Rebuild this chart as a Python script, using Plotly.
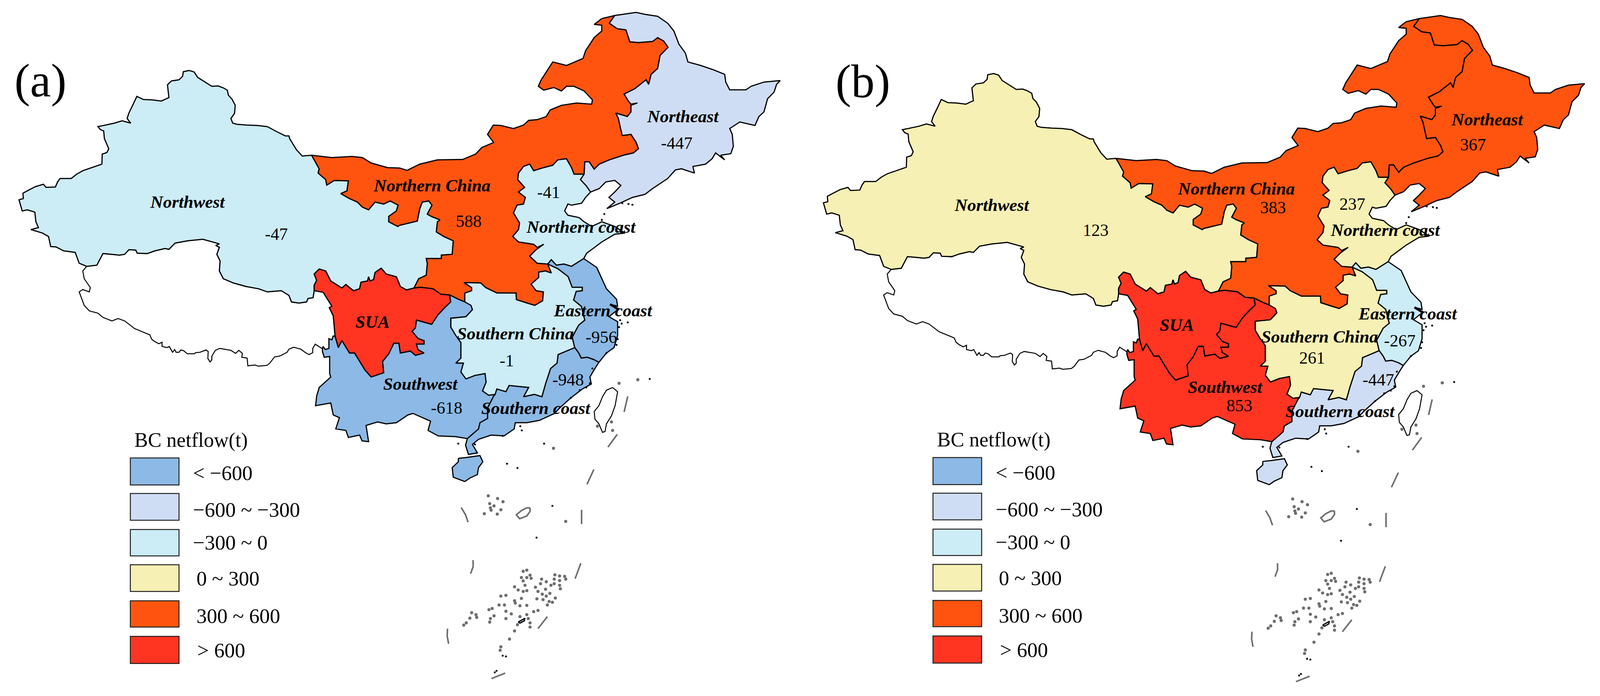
"""Black carbon net flow by region, two China maps side by side."""

import plotly.graph_objects as go

# Map outlines below are in panel (a) picture units. Panel (b) uses the same
# outlines and only shifts its axis ranges.
FIG_W = 4422
FIG_H = 1782
PANEL_B_DX = 2232
PANEL_B_DY = 8

REGIONS = ["Northwest", "Northern China", "Northern coast", "Northeast", "SUA",
           "Southern China", "Eastern coast", "Southern coast", "Southwest"]
NETFLOW_A = [-47, 588, -41, -447, None, -1, -956, -948, -618]
NETFLOW_B = [123, 383, 237, 367, None, 261, -267, -447, 853]

NAME_X = [512, 1190, 1603, 1886, 1025, 1421, 1665, 1478, 1159]
NAME_Y = [514, 471, 578, 293, 823, 854, 794, 1046, 984]
VALUE_X_A = [758, 1292, 1514, 1869, None, 1398, 1660, 1568, 1231]
VALUE_Y_A = [597, 564, 489, 362, None, 924, 863, 973, 1046]
VALUE_X_B = [799, 1292, 1512, 1846, None, 1400, 1643, 1584, 1198]
VALUE_Y_B = [579, 520, 511, 358, None, 909, 864, 965, 1032]

LEGEND_LABELS = ["< \u2212600", "\u2212600 ~ \u2212300", "\u2212300 ~ 0", "0 ~ 300", "300 ~ 600", "> 600"]
LEGEND_COLORS = ["#8CB9E5", "#CFDDF4", "#CCECF6", "#F6F0B4", "#FF540F", "#FF3522"]
LEGEND_TOPS = [1175, 1267, 1360, 1451, 1544, 1636]
LEGEND_BOTTOMS = [1245, 1336, 1428, 1520, 1612, 1706]
LEGEND_TEXT_X = [525, 525, 525, 534, 534, 537]
LEGEND_TEXT_Y = [1214, 1309, 1394, 1486, 1583, 1672]

NW_NORTH = [(856, 393), (830, 395), (814, 379), (804, 364), (795, 350), (793, 343), (783, 343), (761, 333),
            (733, 319), (705, 316), (677, 315), (649, 313), (637, 310), (632, 298), (642, 285), (644, 264),
            (635, 248), (625, 238), (622, 225), (611, 219), (597, 214), (579, 215), (561, 204), (540, 192),
            (530, 178), (516, 174), (500, 177), (498, 189), (488, 198), (467, 201), (456, 211), (460, 244),
            (439, 253), (414, 250), (389, 249), (371, 241), (361, 261), (349, 284), (344, 298), (354, 310),
            (330, 304), (309, 310), (284, 315), (263, 319), (270, 327), (279, 330), (281, 350), (293, 376),
            (288, 386), (275, 390), (274, 416), (246, 425), (221, 433), (204, 442), (189, 453), (158, 453),
            (151, 462), (145, 475), (119, 476), (112, 468), (90, 474), (67, 485), (55, 491), (56, 505),
            (44, 508), (53, 537), (67, 534), (88, 540), (91, 565), (98, 580), (77, 585), (109, 594),
            (126, 603), (132, 629), (147, 630), (168, 640), (200, 644), (211, 672), (232, 680)]
NW_TIBET = [(232, 680), (260, 677), (277, 647), (302, 649), (323, 651), (337, 649), (349, 637), (368, 638),
            (372, 646), (400, 647), (421, 640), (449, 634), (460, 636), (477, 620), (512, 614), (554, 610),
            (582, 617), (600, 622), (590, 626), (600, 631), (593, 649), (602, 666), (600, 692), (611, 712),
            (639, 723), (674, 732), (709, 738), (733, 746), (772, 743), (793, 755), (800, 772), (821, 775),
            (842, 772), (846, 763), (860, 761), (863, 743)]
SUA_NW = [(863, 743), (863, 729), (870, 716), (863, 700), (877, 687), (895, 692), (909, 718), (940, 736),
          (951, 727), (972, 743), (989, 738), (993, 721), (1011, 718), (1014, 707), (1018, 718), (1028, 714),
          (1032, 696), (1049, 685), (1063, 700), (1091, 707), (1102, 732), (1119, 741), (1140, 736)]
NW_NC = [(1140, 736), (1153, 712), (1174, 703), (1177, 672), (1174, 660), (1216, 660), (1216, 651), (1246, 649),
         (1249, 614), (1223, 603), (1202, 591), (1205, 565), (1212, 560), (1188, 551), (1177, 545), (1190, 522),
         (1181, 511), (1163, 514), (1156, 531), (1149, 563), (1100, 574), (1095, 577), (1070, 565), (1070, 551),
         (1091, 537), (1096, 522), (1074, 511), (1056, 519), (1032, 514), (1014, 534), (997, 527), (983, 514),
         (961, 505), (937, 492), (954, 485), (958, 459), (919, 458), (898, 470), (895, 456), (874, 439),
         (877, 428), (856, 393)]
NC_NORTH = [(856, 393), (912, 399), (968, 396), (997, 399), (1021, 413), (1067, 425), (1100, 426), (1121, 432),
            (1156, 416), (1205, 405), (1275, 404), (1311, 390), (1328, 373), (1361, 360), (1344, 339), (1360, 315),
            (1381, 316), (1416, 324), (1444, 315), (1458, 303), (1482, 301), (1507, 293), (1518, 276), (1549, 264),
            (1591, 258), (1633, 261), (1635, 250), (1612, 227), (1584, 215), (1563, 215), (1549, 227), (1528, 218),
            (1500, 225), (1485, 215), (1493, 198), (1525, 152), (1563, 161), (1609, 143), (1616, 123), (1640, 89),
            (1661, 72), (1661, 57), (1640, 55), (1661, 40), (1697, 32)]
NC_NE = [(1697, 32), (1682, 52), (1704, 66), (1728, 69), (1739, 100), (1763, 102), (1802, 99), (1816, 89),
         (1833, 98), (1845, 114), (1823, 135), (1816, 169), (1798, 184), (1791, 210), (1784, 198), (1753, 221),
         (1723, 235), (1735, 253), (1742, 261), (1760, 258), (1742, 264), (1742, 281), (1732, 293), (1700, 284),
         (1707, 298), (1714, 327), (1718, 342), (1742, 339), (1756, 359), (1763, 376), (1749, 387), (1721, 393),
         (1682, 405), (1654, 416), (1640, 429), (1626, 410), (1614, 410), (1612, 442)]
NC_NCOAST = [(1612, 442), (1584, 442), (1577, 425), (1563, 402), (1539, 405), (1525, 419), (1500, 425), (1472, 433),
             (1461, 416), (1444, 422), (1430, 439), (1428, 456), (1447, 476), (1430, 488), (1449, 502), (1444, 519),
             (1426, 522), (1416, 542), (1433, 568), (1430, 585), (1414, 603), (1430, 617), (1472, 623), (1482, 631),
             (1500, 623), (1479, 637), (1461, 654), (1482, 672), (1511, 674)]
NC_EAST = [(1511, 674), (1521, 697)]
NC_SCHINA = [(1521, 697), (1504, 692), (1486, 695), (1486, 709), (1465, 726), (1479, 743), (1499, 746), (1497, 769),
             (1475, 781), (1454, 775), (1424, 766), (1423, 749), (1370, 749), (1339, 735), (1325, 723), (1279, 722),
             (1300, 735), (1300, 743), (1281, 749), (1281, 772)]
SW_NC = [(1281, 772), (1263, 765), (1239, 754)]
SUA_NC = [(1140, 736), (1158, 734), (1193, 738), (1214, 752), (1239, 754)]
SUA_SW = [(1239, 754), (1242, 772), (1225, 787), (1207, 805), (1189, 830), (1147, 819), (1144, 839), (1135, 848),
          (1151, 866), (1168, 872), (1168, 881), (1147, 881), (1151, 895), (1168, 904), (1144, 910), (1130, 899),
          (1102, 904), (1098, 879), (1084, 879), (1070, 906), (1053, 926), (1056, 955), (1021, 966), (1004, 948),
          (975, 904), (961, 904), (940, 872), (930, 890), (921, 861)]
SUA_WEST = [(921, 861), (916, 808), (905, 787), (912, 783), (888, 747), (863, 743)]
SW_SOUTH = [(921, 861), (916, 860), (912, 870), (904, 867), (904, 892), (894, 895), (888, 887), (886, 893),
            (886, 900), (891, 915), (906, 913), (906, 957), (909, 966), (877, 993), (870, 1015), (867, 1040),
            (909, 1033), (916, 1064), (933, 1071), (923, 1100), (951, 1104), (958, 1122), (989, 1116), (996, 1131),
            (1014, 1133), (1007, 1091), (1039, 1082), (1063, 1087), (1091, 1084), (1123, 1064), (1137, 1060),
            (1186, 1080), (1179, 1104), (1207, 1118), (1256, 1120), (1288, 1125)]
SCOAST_SW = [(1288, 1125), (1319, 1100), (1323, 1084), (1344, 1073), (1344, 1046), (1361, 1015), (1365, 1011)]
SCHINA_SW = [(1365, 1011), (1347, 1013), (1330, 1002), (1340, 979), (1337, 957), (1309, 962), (1284, 971),
             (1270, 953), (1277, 930), (1256, 930), (1270, 917), (1270, 877), (1256, 859), (1242, 837), (1242, 814),
             (1284, 810), (1302, 792), (1298, 781), (1281, 772)]
SCHINA_SCOAST = [(1365, 1011), (1370, 997), (1395, 1004), (1404, 988), (1435, 991), (1458, 993), (1444, 1017),
                 (1474, 1011), (1495, 1017), (1505, 984), (1519, 944), (1537, 930), (1540, 908), (1586, 890)]
ECOAST_SCHINA = [(1511, 674), (1539, 686), (1563, 703), (1568, 707), (1579, 734), (1607, 734), (1607, 743),
                 (1590, 745), (1583, 767), (1604, 783), (1614, 819), (1597, 832), (1579, 863), (1586, 890)]
ECOAST_SCOAST = [(1586, 890), (1597, 904), (1604, 917), (1621, 915), (1639, 921), (1653, 928)]
NE_NCOAST = [(1612, 442), (1602, 456), (1618, 472), (1630, 488)]
NCOAST_COAST = [(1630, 488), (1616, 502), (1605, 517), (1577, 522), (1567, 519), (1558, 537), (1567, 548),
                (1598, 554), (1612, 565), (1633, 577), (1661, 565), (1697, 577), (1725, 594), (1697, 597),
                (1661, 617), (1644, 629), (1619, 646), (1611, 660)]
NCOAST_ECOAST = [(1611, 660), (1591, 672), (1577, 680), (1556, 674), (1535, 677), (1521, 663), (1511, 674)]
ECOAST_COAST = [(1611, 660), (1647, 683), (1661, 712), (1674, 738), (1702, 765), (1705, 783), (1688, 779),
                (1705, 792), (1681, 810), (1705, 823), (1705, 859), (1695, 890), (1674, 904), (1653, 928)]
SCOAST_COAST = [(1653, 928), (1642, 944), (1628, 966), (1632, 984), (1607, 997), (1575, 1020), (1544, 1046),
                (1530, 1060), (1488, 1078), (1453, 1084), (1421, 1084), (1418, 1100), (1390, 1118), (1354, 1116),
                (1319, 1127), (1302, 1140), (1316, 1162), (1291, 1166), (1283, 1142), (1288, 1125)]
NE_COAST = [(1630, 488), (1654, 479), (1672, 462), (1697, 458), (1714, 471), (1697, 488), (1681, 502), (1697, 514),
            (1675, 531), (1711, 517), (1746, 502), (1781, 494), (1802, 479), (1844, 453), (1865, 431), (1882, 428),
            (1918, 439), (1914, 422), (1949, 416), (1967, 402), (1977, 387), (2002, 405), (1991, 393), (2019, 389),
            (2026, 370), (2023, 339), (2016, 324), (2044, 307), (2086, 316), (2097, 293), (2111, 281), (2121, 247),
            (2139, 230), (2146, 210), (2156, 200), (2111, 204), (2075, 215), (2061, 224), (2016, 224), (2005, 204),
            (2002, 184), (1970, 172), (1935, 161), (1900, 152), (1893, 129), (1875, 106), (1861, 72), (1844, 52),
            (1816, 34), (1781, 29), (1756, 24), (1718, 29), (1697, 32)]
TIBET_SOUTH = [(232, 680), (221, 692), (225, 712), (242, 735), (239, 746), (221, 740), (211, 746), (225, 781),
               (239, 795), (263, 801), (277, 812), (302, 821), (319, 815), (337, 821), (365, 841), (400, 854),
               (407, 857), (412, 868), (420, 874), (432, 880), (441, 876), (441, 887), (455, 890), (461, 887),
               (470, 902), (476, 895), (480, 902), (488, 902), (493, 896), (501, 898), (511, 906), (531, 906),
               (534, 903), (546, 902), (563, 896), (569, 900), (568, 918), (574, 927), (579, 922), (579, 912),
               (589, 897), (601, 892), (619, 895), (632, 897), (645, 905), (654, 897), (664, 905), (662, 915),
               (677, 917), (679, 937), (699, 935), (708, 938), (732, 936), (740, 930), (753, 914), (767, 912),
               (788, 902), (793, 894), (806, 889), (826, 894), (839, 903), (849, 908), (859, 903), (859, 892),
               (866, 881), (874, 886), (886, 893), (888, 887), (894, 895), (904, 892), (904, 867), (912, 870),
               (916, 860), (921, 861)]
HAINAN = [(1263, 1176), (1284, 1174), (1323, 1169), (1331, 1185), (1319, 1200), (1316, 1218), (1295, 1227),
          (1281, 1236), (1249, 1225), (1246, 1200), (1263, 1185), (1263, 1176)]
SANYA = [(1429, 1599), (1448, 1589), (1446, 1596), (1434, 1602), (1429, 1599)]
TAIWAN = [(1691, 993), (1674, 1000), (1663, 1017), (1653, 1040), (1640, 1055), (1642, 1075), (1653, 1087),
          (1663, 1109), (1670, 1107), (1674, 1087), (1688, 1066), (1698, 1040), (1705, 1004), (1691, 993)]

DASHES = [[(1733, 1016), (1723, 1056)], [(1704, 1114), (1678, 1147)], [(1639, 1205), (1620, 1243)],
          [(1271, 1303), (1283, 1322), (1290, 1341)], [(1605, 1309), (1605, 1346)],
          [(1304, 1439), (1304, 1456), (1297, 1474)], [(1603, 1447), (1587, 1487)], [(1510, 1585), (1484, 1616)],
          [(1233, 1616), (1232, 1635), (1236, 1655)], [(1393, 1731), (1355, 1745)]]
RING_REEF = [(1462, 1304), (1453, 1304), (1438, 1311), (1424, 1322), (1433, 1332), (1453, 1325), (1462, 1313), (1462, 1304)]
YANGTZE_MOUTH = [(1684, 778), (1709, 792)]

GREY_ISLANDS = [(1346, 1273), (1372, 1280), (1387, 1288), (1350, 1293), (1362, 1299), (1352, 1304), (1381, 1309),
                (1354, 1310), (1335, 1319), (1371, 1320), (1561, 1339), (1527, 1150), (1443, 1468), (1453, 1465),
                (1438, 1484), (1453, 1484), (1465, 1486), (1462, 1478), (1443, 1493), (1448, 1504), (1419, 1508),
                (1429, 1516), (1443, 1520), (1453, 1518), (1477, 1509), (1494, 1488), (1491, 1500), (1507, 1495),
                (1529, 1488), (1544, 1492), (1561, 1488), (1531, 1477), (1544, 1480), (1558, 1481), (1520, 1504),
                (1529, 1500), (1544, 1504), (1546, 1513), (1484, 1520), (1505, 1514), (1496, 1527), (1517, 1525),
                (1507, 1532), (1532, 1537), (1481, 1539), (1498, 1541), (1515, 1546), (1524, 1548), (1510, 1555),
                (1419, 1544), (1421, 1550), (1434, 1557), (1453, 1556), (1395, 1530), (1381, 1532), (1438, 1538),
                (1376, 1555), (1391, 1555), (1348, 1567), (1357, 1564), (1395, 1571), (1410, 1578), (1395, 1590),
                (1472, 1572), (1484, 1569), (1453, 1580), (1434, 1585), (1457, 1590), (1462, 1601), (1427, 1606),
                (1462, 1612), (1419, 1622), (1405, 1643), (1300, 1575), (1312, 1580), (1295, 1589), (1314, 1587),
                (1285, 1601), (1278, 1607), (1352, 1590), (1362, 1583), (1350, 1599), (1381, 1663), (1379, 1672),
                (1709, 982), (1761, 973), (1688, 1082), (1691, 1104), (1649, 1093)]
BLACK_ISLANDS = [(1524, 1299), (1480, 1381), (1501, 1138), (1398, 1190), (1427, 1201), (1386, 1686), (1395, 1688),
                 (1369, 1725), (1364, 1729), (1712, 819), (1716, 828), (1709, 837), (1733, 825), (1705, 868),
                 (1702, 883), (1674, 904), (1635, 944), (1628, 982), (1618, 993), (1600, 1000), (1575, 1020),
                 (1530, 1055), (1435, 1093), (1439, 1104), (1386, 1118), (1309, 1140), (1263, 1138), (1794, 971),
                 (1718, 517), (1735, 519), (1746, 521), (1668, 545), (1661, 560)]

BLACK = "#000000"
GREY = "#6E6E6E"
SERIF = "Liberation Serif"


def rev(arc):
    return arc[::-1]


REGION_PARTS = {
    "Northwest": [NW_NORTH + NW_TIBET + SUA_NW + NW_NC],
    "Northern China": [NC_NORTH + NC_NE + NC_NCOAST + NC_EAST + NC_SCHINA + SW_NC + rev(SUA_NC) + NW_NC],
    "Northern coast": [NE_NCOAST + NCOAST_COAST + NCOAST_ECOAST + rev(NC_NCOAST)],
    "Northeast": [NE_COAST + NC_NE + NE_NCOAST],
    "SUA": [SUA_NW + SUA_NC + SUA_SW + SUA_WEST],
    "Southern China": [ECOAST_SCHINA + rev(SCHINA_SCOAST) + SCHINA_SW + rev(NC_SCHINA) + rev(NC_EAST)],
    "Eastern coast": [rev(NCOAST_ECOAST) + ECOAST_COAST + rev(ECOAST_SCOAST) + rev(ECOAST_SCHINA)],
    "Southern coast": [ECOAST_SCOAST + SCOAST_COAST + SCOAST_SW + SCHINA_SCOAST, HAINAN, SANYA],
    "Southwest": [SW_SOUTH + SCOAST_SW + SCHINA_SW + SW_NC + SUA_SW],
}


def bin_color(value):
    # SUA carries no number on the map, it is in the top class on both panels
    if value is None or value > 600:
        return LEGEND_COLORS[5]
    if value < -600:
        return LEGEND_COLORS[0]
    if value < -300:
        return LEGEND_COLORS[1]
    if value < 0:
        return LEGEND_COLORS[2]
    if value < 300:
        return LEGEND_COLORS[3]
    return LEGEND_COLORS[4]


def unzip(parts):
    xs, ys = [], []
    for part in parts:
        xs += [p[0] for p in part] + [None]
        ys += [p[1] for p in part] + [None]
    return xs, ys


def text_note(text, x, y, xa, ya, size, anchor="center"):
    return dict(text=text, x=x, y=y, xref=xa, yref=ya, xanchor=anchor, yanchor="middle",
                showarrow=False, font=dict(family=SERIF, size=size, color=BLACK))


def add_panel(fig, xa, ya, values, value_x, value_y, letter, letter_x, letter_y, leg_dx, leg_dy):
    xaxis = "x" if xa == "x" else "x2"
    yaxis = "y" if ya == "y" else "y2"

    xs, ys = unzip([TIBET_SOUTH + SUA_WEST + rev(NW_TIBET), TAIWAN])
    fig.add_trace(go.Scatter(x=xs, y=ys, xaxis=xaxis, yaxis=yaxis, mode="lines", fill="toself",
                             fillcolor="#FFFFFF", line=dict(color=BLACK, width=2.5)))

    for region, value in zip(REGIONS, values):
        xs, ys = unzip(REGION_PARTS[region])
        fig.add_trace(go.Scatter(x=xs, y=ys, xaxis=xaxis, yaxis=yaxis, mode="lines", fill="toself",
                                 fillcolor=bin_color(value), line=dict(color=BLACK, width=3)))

    xs, ys = unzip(DASHES + [RING_REEF])
    fig.add_trace(go.Scatter(x=xs, y=ys, xaxis=xaxis, yaxis=yaxis, mode="lines",
                             line=dict(color=GREY, width=4)))
    xs, ys = unzip([YANGTZE_MOUTH])
    fig.add_trace(go.Scatter(x=xs, y=ys, xaxis=xaxis, yaxis=yaxis, mode="lines",
                             line=dict(color=BLACK, width=6)))
    fig.add_trace(go.Scatter(x=[p[0] for p in GREY_ISLANDS], y=[p[1] for p in GREY_ISLANDS],
                             xaxis=xaxis, yaxis=yaxis, mode="markers",
                             marker=dict(color=GREY, size=8, line=dict(width=0))))
    fig.add_trace(go.Scatter(x=[p[0] for p in BLACK_ISLANDS], y=[p[1] for p in BLACK_ISLANDS],
                             xaxis=xaxis, yaxis=yaxis, mode="markers",
                             marker=dict(color=BLACK, size=5, line=dict(width=0))))

    notes = [text_note(letter, letter_x, letter_y, xa, ya, 120)]
    for i, region in enumerate(REGIONS):
        notes.append(text_note(f"<b><i>{region}</i></b>", NAME_X[i], NAME_Y[i], xa, ya, 45))
        if values[i] is not None:
            notes.append(text_note(str(values[i]), value_x[i], value_y[i], xa, ya, 44))

    notes.append(text_note("BC netflow(t)", 362 + leg_dx, 1129 + leg_dy, xa, ya, 52, "left"))
    for i, label in enumerate(LEGEND_LABELS):
        fig.add_shape(type="rect", xref=xa, yref=ya, x0=353 + leg_dx, x1=488 + leg_dx,
                      y0=LEGEND_TOPS[i] + leg_dy, y1=LEGEND_BOTTOMS[i] + leg_dy,
                      fillcolor=LEGEND_COLORS[i], line=dict(color="#222222", width=2.5))
        notes.append(text_note(label, LEGEND_TEXT_X[i] + leg_dx, LEGEND_TEXT_Y[i] + leg_dy, xa, ya, 53, "left"))
    return notes


fig = go.Figure()
annotations = add_panel(fig, "x", "y", NETFLOW_A, VALUE_X_A, VALUE_Y_A, "(a)", 103, 200, 0, 0)
annotations += add_panel(fig, "x2", "y2", NETFLOW_B, VALUE_X_B, VALUE_Y_B, "(b)", 153, 194, -5, -9)

half = FIG_W / 2
hidden = dict(visible=False, fixedrange=True)
fig.update_layout(
    margin=dict(l=0, r=0, t=0, b=0),
    paper_bgcolor="#FFFFFF",
    plot_bgcolor="#FFFFFF",
    showlegend=False,
    hovermode=False,
    xaxis=dict(domain=[0, 0.5], range=[0, half], **hidden),
    yaxis=dict(domain=[0, 1], range=[FIG_H, 0], **hidden),
    xaxis2=dict(domain=[0.5, 1], range=[half - PANEL_B_DX, FIG_W - PANEL_B_DX], **hidden),
    yaxis2=dict(domain=[0, 1], range=[FIG_H - PANEL_B_DY, -PANEL_B_DY], **hidden),
    annotations=annotations,
)

fig.write_html("out.html")
